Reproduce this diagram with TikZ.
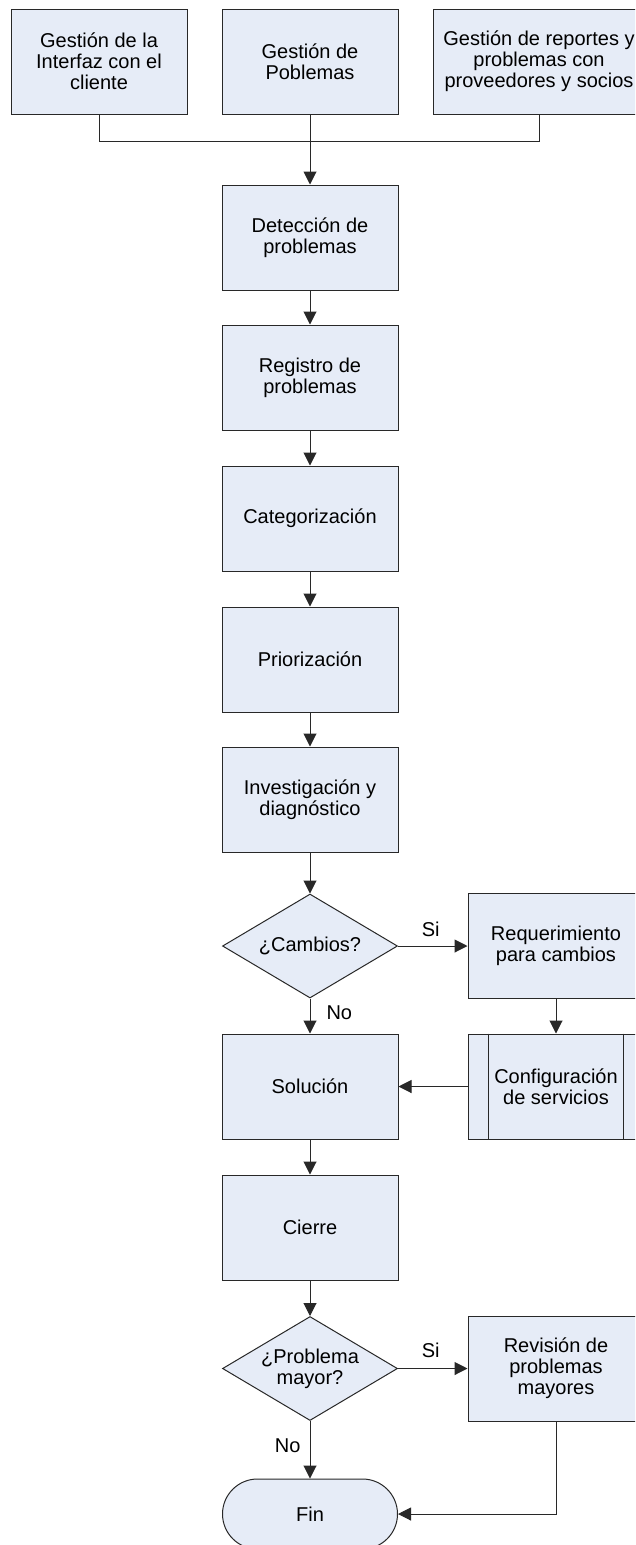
\documentclass[tikz,border=0pt]{standalone}
\usepackage{fontspec}
\setmainfont{Liberation Sans}
\usetikzlibrary{shapes.geometric,arrows.meta}

\definecolor{boxfill}{RGB}{230,236,247}
\definecolor{edgecol}{RGB}{40,40,40}

\tikzset{
  base/.style={draw=edgecol, line width=1pt, fill=boxfill, align=center,
    font=\fontsize{20}{21}\selectfont, inner sep=0pt},
  procbox/.style={base, rectangle, minimum width=176pt, minimum height=105pt},
  widebox/.style={base, rectangle, minimum width=212pt, minimum height=105pt},
  decision/.style={base, diamond, aspect=1.68, minimum width=175pt, minimum height=104pt},
  terminal/.style={base, rectangle, rounded corners=35pt, minimum width=175pt, minimum height=70pt},
  link/.style={draw=edgecol, line width=1pt},
  flow/.style={link, -{Triangle[length=13pt,width=13pt]}},
  lbl/.style={inner sep=0pt, font=\fontsize{20}{21}\selectfont}
}

\begin{document}
\begin{tikzpicture}[x=1pt,y=-1pt]
  \clip (0,0) rectangle (635,1545);
  \fill[white] (0,0) rectangle (635,1545);

  % sources feeding the process
  \node[procbox] (g1) at (99,61.5)  {Gestión de la\\Interfaz con el\\cliente};
  \node[procbox] (g2) at (310,61.5) {Gestión de\\Poblemas};
  \node[widebox] (g3) at (539,61.5) {Gestión de reportes y\\problemas con\\proveedores y socios};

  % main column
  \node[procbox] (det) at (310,237.5) {Detección de\\problemas};
  \node[procbox] (reg) at (310,377.5) {Registro de\\problemas};
  \node[procbox] (cat) at (310,518.5) {Categorización};
  \node[procbox] (pri) at (310,659.5) {Priorización};
  \node[procbox] (inv) at (310,799.5) {Investigación y\\diagnóstico};
  \node[decision] (dec1) at (310,946) {¿Cambios?};
  \node[procbox] (req) at (556,946) {Requerimiento\\para cambios};
  \node[procbox] (sol) at (310,1086.5) {Solución};
  \node[procbox] (conf) at (556,1086.5) {Configuración\\de servicios};
  \draw[link] ([xshift=21pt]conf.north west) -- ([xshift=21pt]conf.south west);
  \draw[link] ([xshift=-21pt]conf.north east) -- ([xshift=-21pt]conf.south east);
  \node[procbox] (cie) at (310,1227.5) {Cierre};
  \node[decision] (dec2) at (310,1368.5) {¿Problema\\mayor?};
  \node[procbox] (rev) at (556,1368.5) {Revisión de\\problemas\\mayores};
  \node[terminal] (fin) at (310,1514) {Fin};

  % joining the three sources
  \coordinate (junL) at (99,141);
  \coordinate (junR) at (539,141);
  \draw[link] (g1.south) -- (junL) -- (junR) -- (g3.south);
  \draw[flow] (g2.south) -- (det.north);

  % sequence
  \draw[flow] (det) -- (reg);
  \draw[flow] (reg) -- (cat);
  \draw[flow] (cat) -- (pri);
  \draw[flow] (pri) -- (inv);
  \draw[flow] (inv) -- (dec1);
  \draw[flow] (dec1.east) -- node[lbl, pos=0.47, above=9pt] {Si} (req.west);
  \draw[flow] (dec1.south) -- node[lbl, pos=0.42, right=16pt] {No} (sol.north);
  \draw[flow] (req) -- (conf);
  \draw[flow] (conf.west) -- (sol.east);
  \draw[flow] (sol) -- (cie);
  \draw[flow] (cie) -- (dec2);
  \draw[flow] (dec2.east) -- node[lbl, pos=0.47, above=10pt] {Si} (rev.west);
  \draw[flow] (dec2.south) -- node[lbl, pos=0.43, left=9pt] {No} (fin.north);
  \draw[flow] (rev.south) |- (fin.east);
\end{tikzpicture}
\end{document}
